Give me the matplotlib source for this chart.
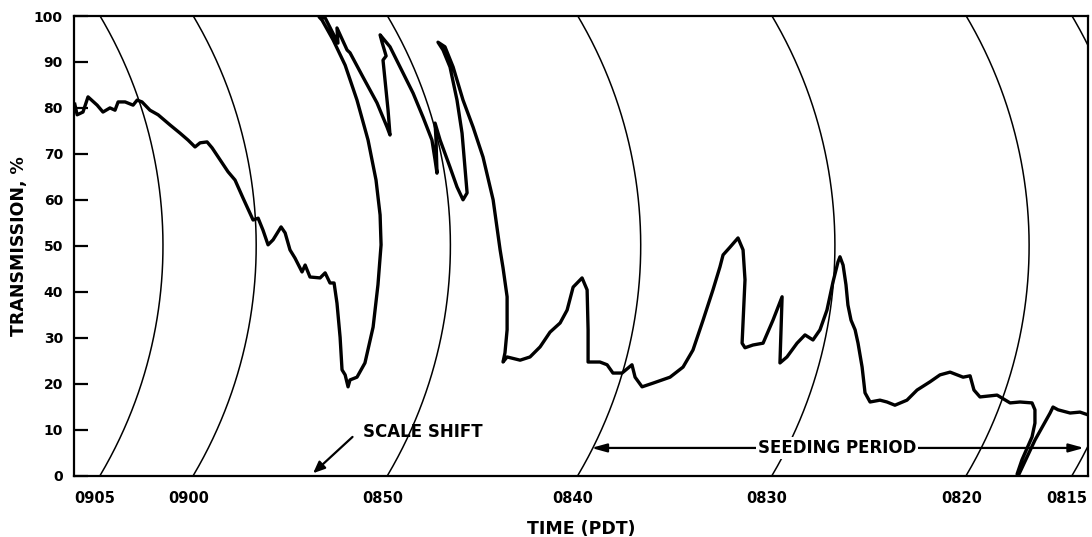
import numpy as np
import matplotlib
matplotlib.use('Agg')
import matplotlib.pyplot as plt
from matplotlib.transforms import ScaledTranslation

plt.rcParams['font.family'] = 'DejaVu Sans'
plt.rcParams['font.weight'] = 'bold'

# time in minutes after 0800 (0905 = 65)
tick_labels = ['0905', '0900', '0850', '0840', '0830', '0820', '0815']
arc_times = [65.0, 60.2, 50.2, 40.4, 30.4, 20.4, 14.95]
y_ticks = [0, 10, 20, 30, 40, 50, 60, 70, 80, 90, 100]

# recorder trace (apparent chart time, transmission %)
trace_t = [66.3, 66.18, 65.88, 65.62, 65.15, 64.85, 64.49, 64.23, 64.07, 63.71,
           63.30, 63.09, 62.84, 62.43, 62.01, 61.40, 60.88, 60.47, 60.11, 59.85,
           59.49, 59.23, 58.82, 58.41, 58.05, 57.64, 57.12, 56.86, 56.61, 56.35,
           56.09, 55.68, 55.47, 55.22, 54.96, 54.60, 54.44, 54.19, 53.67, 53.41,
           53.16, 52.95, 52.80, 52.64, 52.54, 52.38, 52.23, 52.13, 51.77, 51.36,
           50.94, 50.69, 50.53, 50.58, 50.79, 51.20, 51.77, 52.38, 53.00, 53.57,
           53.72, 53.41, 52.75, 52.80, 52.28, 52.13, 51.46, 50.74, 50.22, 50.07,
           50.17, 50.33, 50.43, 50.27, 50.48, 50.58, 50.07, 49.55, 48.88, 48.37,
           47.91, 47.75, 47.65, 47.70, 47.75, 47.49, 46.98, 46.62, 46.31, 46.10,
           46.21, 46.36, 46.62, 46.98, 47.34, 47.60, 47.24, 46.82, 46.31, 45.79,
           45.28, 44.76, 44.40, 44.25, 44.04, 44.04, 44.15, 44.25, 44.04, 43.37,
           42.86, 42.34, 41.83, 41.31, 40.95, 40.64, 40.18, 39.92, 39.87, 39.87,
           39.26, 38.89, 38.59, 38.12, 37.61, 37.45, 37.09, 36.53, 35.65, 34.98,
           34.47, 33.95, 33.44, 33.08, 32.92, 32.56, 32.15, 31.89, 31.79, 31.94,
           31.79, 31.38, 30.86, 30.35, 29.88, 29.99, 29.63, 29.11, 28.70, 28.29,
           27.93, 27.57, 27.26, 27.00, 26.90, 26.74, 26.59, 26.49, 26.33, 26.12,
           25.97, 25.76, 25.61, 25.35, 24.84, 24.48, 24.07, 23.45, 22.93, 22.26,
           21.75, 21.23, 20.87, 20.56, 20.20, 20.00, 19.69, 18.81, 18.14, 17.63,
           17.01, 16.86, 16.86, 17.01, 17.53, 17.78, 17.68, 16.86, 16.08, 15.93,
           15.67, 15.05, 14.54, 14.13]
trace_v = [80.8, 78.5, 79.1, 82.4, 80.6, 79.1, 80.0, 79.5, 81.3, 81.3,
           80.6, 81.7, 81.3, 79.5, 78.5, 76.3, 74.5, 73.0, 71.5, 72.4,
           72.6, 71.3, 68.7, 66.1, 64.3, 60.4, 55.6, 56.0, 53.4, 50.2,
           51.3, 54.1, 52.8, 49.1, 47.3, 44.3, 45.8, 43.2, 43.0, 44.1,
           41.9, 41.9, 37.5, 30.1, 23.0, 21.9, 19.3, 20.8, 21.4, 24.5,
           32.3, 41.5, 50.2, 56.7, 64.3, 73.0, 81.7, 89.3, 94.8, 99.1,
           99.8, 99.6, 94.1, 97.4, 92.6, 92.0, 86.7, 81.1, 75.8, 74.1,
           79.5, 86.1, 90.4, 91.3, 94.3, 95.9, 93.3, 88.9, 83.2, 78.0,
           73.0, 68.7, 65.8, 73.0, 76.7, 73.0, 67.1, 62.8, 60.0, 61.5,
           67.1, 74.5, 81.7, 88.9, 92.6, 94.3, 93.3, 88.9, 81.7, 75.8,
           69.3, 60.0, 49.1, 45.2, 38.9, 31.7, 26.7, 24.7, 25.8, 25.1,
           25.8, 28.0, 31.2, 33.2, 36.0, 41.0, 43.0, 40.4, 31.7, 24.7,
           24.7, 24.1, 22.3, 22.3, 24.1, 21.4, 19.3, 20.1, 21.4, 23.6,
           27.3, 33.8, 40.4, 45.4, 48.0, 49.7, 51.7, 49.1, 42.6, 28.8,
           27.8, 28.4, 28.8, 33.8, 38.9, 24.5, 25.8, 28.8, 30.6, 29.5,
           31.7, 36.0, 42.1, 46.5, 47.6, 45.8, 41.5, 37.1, 33.8, 31.7,
           28.8, 23.6, 18.0, 16.0, 16.4, 16.0, 15.3, 16.4, 18.6, 20.4,
           21.9, 22.5, 21.9, 21.4, 21.7, 18.6, 17.1, 17.5, 15.8, 16.0,
           15.8, 14.3, 11.4, 8.4, 3.4, 0.3, 0.3, 7.7, 13.6, 14.9,
           14.3, 13.6, 13.8, 13.2]

# annotations
scale_shift_tip = (54.03, 0.5)
scale_shift_tail = (52.0, 8.4)
scale_shift_label = (51.46, 9.5)
seeding_start = 39.7
seeding_end = 14.33
seeding_level = 6.0
seeding_mid = 27.05

# pen arm geometry: circle radius in % units, % units per minute
R = 98.15
ASPECT = 4.226


def arc_offset(v):
    return (np.sqrt(R**2 - (v - 50)**2) - np.sqrt(R**2 - 50**2)) / ASPECT


fig = plt.figure(figsize=(10.92, 5.37), dpi=100)
ax = fig.add_axes([0.0678, 0.1145, 0.9285, 0.8557])

vv = np.linspace(0, 100, 200)
for t0 in arc_times:
    ax.plot(t0 - arc_offset(vv), vv, color='black', lw=1.1)

ax.plot(trace_t, trace_v, color='black', lw=2.4, solid_joinstyle='round')

# scale shift arrow
ax.annotate('', xy=scale_shift_tip, xytext=scale_shift_tail,
            arrowprops=dict(arrowstyle='-|>,head_length=0.7,head_width=0.3',
                            color='black', lw=1.6, shrinkA=0, shrinkB=0),
            annotation_clip=False)
ax.text(scale_shift_label[0], scale_shift_label[1], 'SCALE SHIFT',
        fontsize=12, fontweight='bold', ha='left', va='center')

# seeding period double arrow
ax.annotate('', xy=(seeding_end, seeding_level), xytext=(seeding_start, seeding_level),
            arrowprops=dict(arrowstyle='<|-|>,head_length=0.9,head_width=0.25',
                            color='black', lw=1.6, shrinkA=0, shrinkB=0))
ax.text(seeding_mid, seeding_level, 'SEEDING PERIOD', fontsize=12,
        fontweight='bold', ha='center', va='center',
        bbox=dict(facecolor='white', edgecolor='none', pad=1.5))

ax.set_xlim(66.34, 14.13)
ax.set_ylim(0, 100)
ax.set_xticks(arc_times)
ax.set_xticklabels(tick_labels)
ax.set_yticks(y_ticks)
ax.tick_params(axis='x', length=0, pad=11, labelsize=10.5)
ax.tick_params(axis='y', direction='in', length=10, width=1.6, pad=8, labelsize=10)
shift = ScaledTranslation(-5 / 100, 0, fig.dpi_scale_trans)
for lab in ax.get_xticklabels():
    lab.set_fontweight('bold')
    lab.set_transform(lab.get_transform() + shift)
for lab in ax.get_yticklabels():
    lab.set_fontweight('bold')
for s in ax.spines.values():
    s.set_linewidth(1.6)

ax.set_xlabel('TIME (PDT)', fontsize=12.5, fontweight='bold', labelpad=10)
ax.set_ylabel('TRANSMISSION, %', fontsize=12.5, fontweight='bold', labelpad=4)

plt.savefig('out.png', dpi=100)
